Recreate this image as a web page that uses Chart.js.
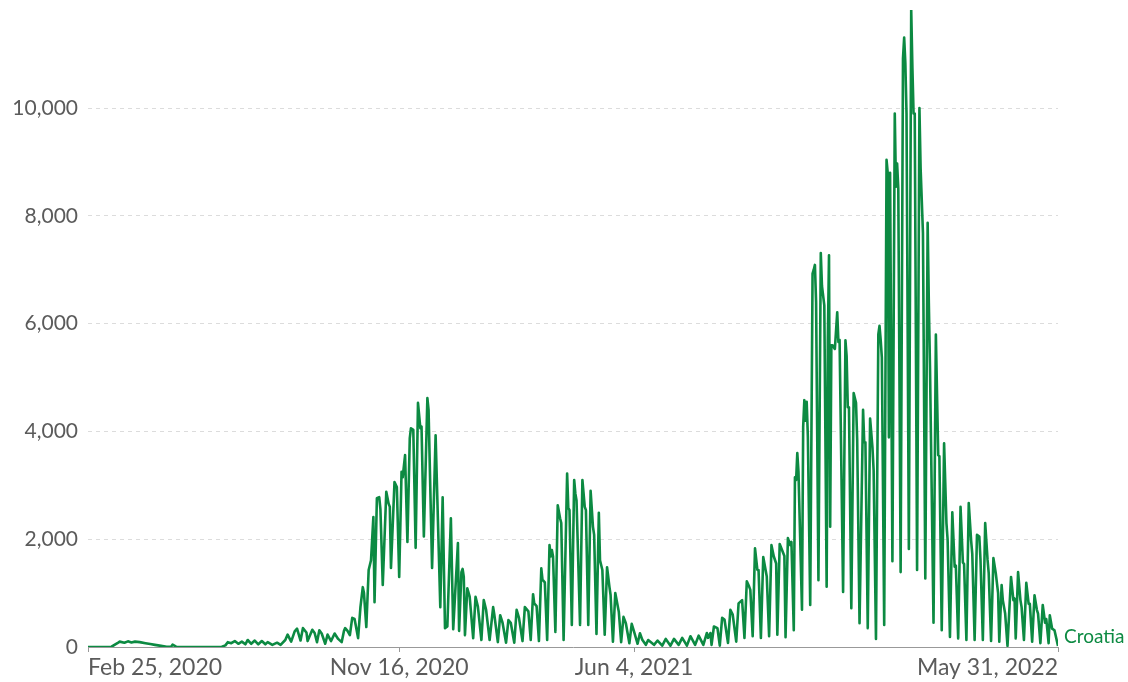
<!DOCTYPE html>
<html>
<head>
<meta charset="utf-8">
<script src="https://cdn.jsdelivr.net/npm/chart.js@4/dist/chart.umd.min.js"></script>
<style>
  html, body { margin: 0; padding: 0; background: #fff; }
  #wrap { width: 1128px; height: 682px; position: relative; }
</style>
</head>
<body>
<div id="wrap"><canvas id="cases-chart"></canvas></div>
<script>
'use strict';

// days since Feb 25, 2020 and daily confirmed cases
const days = [
    0, 10, 20, 25, 27, 31, 34, 37, 40, 44, 49, 53, 57, 61, 67, 71, 72, 75, 83, 95, 108, 114,
    117, 119, 122, 125, 128, 131, 134, 136, 139, 142, 145, 148, 151, 153, 157, 161, 164, 168, 170, 173,
    176, 178, 181, 183, 186, 187, 191, 193, 195, 197, 199, 202, 204, 207, 210, 213, 216, 218, 219, 221,
    223, 225, 227, 230,
    232, 234, 235, 237, 239, 241, 243, 244, 246, 248, 249, 251, 254, 256, 257, 258, 261, 263, 265, 267,
    268, 270, 272, 274, 275, 277, 279, 281, 283, 284, 286, 289, 290, 293, 296, 300, 302, 304, 306, 309,
    311, 315, 316, 318, 319, 320, 321,
    323, 325, 328, 330, 332, 335, 337, 339, 342, 345, 346, 349, 351, 353, 356, 358, 360, 363, 365, 367,
    370, 372, 375, 377, 379, 380, 382, 384, 386, 387, 389, 391, 393, 394, 395, 396, 398, 400, 402, 403,
    405, 408, 409, 410, 412, 414, 415, 416, 419, 421, 422, 423, 424, 426, 428, 430, 431, 433, 435, 436,
    438, 440, 442, 444, 445, 447, 449, 452, 454, 456, 458, 461, 463, 465, 468, 470, 472, 475, 477,
    482, 485, 489, 492, 496, 499, 503, 506, 510, 513, 517, 520, 524, 527, 528, 530, 531, 533, 536, 538,
    540, 542, 545, 547, 549, 552, 554, 557, 559, 561, 563, 564, 566, 568, 570, 571, 573, 575, 577, 578,
    580, 582, 584, 586, 587, 589, 591, 593, 594, 596, 598, 599, 601,
    602, 603, 604, 605, 608, 609, 610, 611, 612, 613, 615, 617, 618, 619, 620, 622, 624, 625, 627, 629,
    630, 631, 632, 633, 634, 636, 638, 639, 640, 643, 645, 646, 647, 648, 650, 652, 654, 655, 657, 660,
    661, 662, 664, 666, 668, 669, 671, 673, 674, 675, 676, 678,
    680, 681, 682, 683, 685, 687, 688, 689, 690, 692, 694, 695, 696, 697, 699, 701, 702, 703, 704, 706,
    708, 709, 711, 713, 715, 716, 717, 720, 722, 724, 725, 727, 729, 731, 732, 734, 736, 738, 739, 741,
    743, 745, 746, 748, 750, 752, 753, 755, 757, 759, 760, 762, 764, 766, 767, 769, 771, 773, 775, 776,
    778, 779, 781, 783, 786, 788, 789, 790, 792, 794, 795, 797, 799, 801, 802, 804, 806, 808, 809, 811,
    813, 815, 816, 818, 819, 821, 823, 826
];
const cases = [
    0, 0, 5, 70, 100, 80, 105, 85, 100, 90, 70, 55, 40, 25, 5, 10, 45, 5, 0, 0, 0, 5,
    30, 90, 70, 110, 60, 100, 50, 130, 60, 120, 50, 110, 50, 90, 40, 80, 40, 130, 230, 100,
    290, 340, 120, 350, 270, 110, 320, 260, 90, 310, 250, 60, 230, 110, 250, 150, 90, 300, 350, 300,
    220, 540, 520, 165,
    740, 1110, 1000, 370, 1430, 1610, 2410, 830, 2760, 2780, 2560, 1150, 2880, 2660, 2600, 1465, 3060, 2970, 1300, 3250,
    3150, 3560, 1950, 3870, 4060, 4030, 1840, 4530, 4060, 4090, 2050, 4620, 4400, 1465, 3930, 740, 2780, 350, 380, 2390,
    330, 1930, 300, 1390, 1450, 1300, 220,
    1090, 935, 165, 930, 750, 130, 870, 690, 130, 740, 600, 90, 590, 450, 80, 500, 450, 80, 690, 540,
    110, 740, 660, 130, 980, 810, 760, 110, 1460, 1250, 1200, 130, 1890, 1680, 1800, 1680, 280, 2630, 2390, 2300,
    130, 3220, 2580, 2540, 410, 3100, 2850, 2720, 410, 3100, 2850, 2600, 2540, 410, 2900, 2230, 2080, 240, 2490, 1610,
    1430, 230, 1480, 1120, 965, 100, 1000, 655, 90, 560, 440, 70, 430, 285, 60, 255, 135, 40, 130,
    40, 120, 25, 150, 25, 150, 40, 170, 25, 200, 40, 210, 40, 260, 170, 260, 40, 380, 350, 25,
    540, 510, 75, 690, 600, 100, 810, 870, 170, 1220, 1120, 1060, 200, 1830, 1430, 1430, 170, 1670, 1430, 1310,
    200, 1890, 1680, 1550, 230, 1910, 1800, 1690, 180, 2020, 1890, 1950, 310,
    3150, 3100, 3600, 3250, 690, 4080, 4580, 4200, 4550, 3900, 780, 6930, 7000, 7090, 6400, 1240, 7310, 6700, 6340, 1120,
    5690, 7270, 2230, 5600, 5600, 5530, 6210, 5660, 5700, 1020, 5690, 5400, 4450, 4450, 720, 4710, 4530, 3840, 440, 4400,
    3800, 3800, 350, 4240, 3700, 3280, 150, 5800, 5960, 5700, 5370, 410,
    9040, 8800, 3890, 8800, 1590, 9900, 8540, 8970, 8500, 1390, 10920, 11310, 10840, 9900, 1820, 11820, 10760, 9900, 9900, 1430,
    10000, 8890, 7680, 1270, 7870, 6390, 5180, 450, 5800, 3560, 3540, 310, 3780, 2300, 1990, 185, 2500, 1490, 1510, 160,
    2600, 1570, 1540, 130, 2670, 1980, 1730, 130, 2080, 2050, 1620, 130, 2300, 1620, 1370, 110, 1650, 1370, 1000, 100,
    1150, 870, 620, 20, 1300, 870, 900, 160, 1390, 870, 740, 130, 1190, 800, 800, 100, 960, 690, 620, 70,
    780, 450, 520, 70, 590, 340, 310, 20
];

const tickDays = [0, 265, 465, 826];
const tickLabels = ['Feb 25, 2020', 'Nov 16, 2020', 'Jun 4, 2021', 'May 31, 2022'];
const yTicks = [0, 2000, 4000, 6000, 8000, 10000];
const countryName = 'Croatia';

const lineColor = '#0c8a42';
const textColor = '#5b5b5b';

const endLabel = {
    id: 'endLabel',
    afterDatasetsDraw(chart) {
        const meta = chart.getDatasetMeta(0);
        const last = meta.data[meta.data.length - 1];
        const ctx = chart.ctx;
        ctx.save();
        ctx.font = '19px Lato';
        ctx.fillStyle = lineColor;
        ctx.textAlign = 'left';
        ctx.textBaseline = 'middle';
        ctx.fillText(countryName, last.x + 6, Math.min(last.y, chart.chartArea.bottom - 10));
        ctx.restore();
    }
};

window.addEventListener('load', () => {
    const points = days.map((d, i) => ({x: d, y: cases[i]}));
    const config = {
        type: 'line',
        data: {
            datasets: [{
                label: countryName,
                data: points,
                borderColor: lineColor,
                borderWidth: 2.6,
                borderJoinStyle: 'round',
                pointRadius: 0,
                tension: 0,
                fill: false,
            }]
        },
        options: {
            responsive: true,
            maintainAspectRatio: false,
            animation: false,
            layout: {padding: {top: 10, right: 70, left: 0, bottom: 0}},
            plugins: {
                legend: {display: false},
                tooltip: {enabled: false},
            },
            scales: {
                x: {
                    type: 'linear',
                    min: 0,
                    max: 826,
                    afterBuildTicks: (scale) => {
                        scale.ticks = tickDays.map(v => ({value: v}));
                    },
                    afterFit: (scale) => {
                        scale.height = 35;
                        scale.paddingLeft = 0;
                        scale.paddingRight = 0;
                    },
                    ticks: {
                        autoSkip: false,
                        maxRotation: 0,
                        align: 'inner',
                        color: textColor,
                        font: {family: 'Lato', size: 23},
                        padding: 2,
                        callback: (value) => tickLabels[tickDays.indexOf(value)],
                    },
                    grid: {
                        drawOnChartArea: false,
                        drawTicks: true,
                        tickLength: 5,
                        color: '#999',
                    },
                    border: {display: true, color: '#999', width: 1},
                },
                y: {
                    min: 0,
                    max: 11820,
                    afterBuildTicks: (scale) => {
                        scale.ticks = yTicks.map(v => ({value: v}));
                    },
                    afterFit: (scale) => {
                        scale.width = 88;
                        scale.paddingTop = 0;
                        scale.paddingBottom = 0;
                    },
                    ticks: {
                        color: textColor,
                        font: {family: 'Lato', size: 21},
                        padding: 10,
                        callback: (value) => value.toLocaleString('en-US'),
                    },
                    grid: {
                        drawTicks: false,
                        color: (c) => c.tick && c.tick.value === 0 ? 'rgba(0,0,0,0)' : '#dcdcdc',
                    },
                    border: {display: false, dash: [4, 4]},
                },
            },
        },
        plugins: [endLabel],
    };
    new Chart(document.getElementById('cases-chart'), config);
});
</script>
</body>
</html>
